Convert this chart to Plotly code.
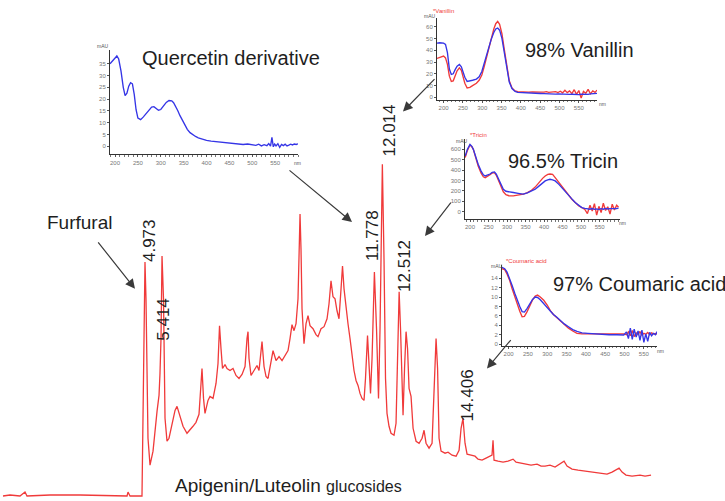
import plotly.graph_objects as go

# ---------------- DATA ----------------
# Main chromatogram: retention time (min) and detector signal (mAU)
CHROM_T = [0.761, 0.969, 1.265, 1.414, 1.473, 2.155, 3.045, 3.935, 4.440, 4.469, 4.529, 4.884, 4.914,
           4.973, 5.003, 5.062, 5.122, 5.211, 5.330, 5.359, 5.389, 5.418, 5.448, 5.478, 5.522, 5.567,
           5.626, 5.685, 5.775, 5.864, 5.923, 6.012, 6.101, 6.219, 6.308, 6.397, 6.486, 6.575, 6.635,
           6.664, 6.709, 6.753, 6.842, 6.902, 6.991, 7.080, 7.139, 7.184, 7.228, 7.272, 7.347, 7.406,
           7.495, 7.584, 7.673, 7.762, 7.851, 7.940, 7.999, 8.029, 8.059, 8.118, 8.207, 8.296, 8.355,
           8.444, 8.504, 8.563, 8.622, 8.711, 8.771, 8.860, 8.949, 9.038, 9.127, 9.216, 9.275, 9.334,
           9.394, 9.453, 9.512, 9.542, 9.572, 9.601, 9.631, 9.690, 9.750, 9.809, 9.868, 9.957, 10.046,
           10.105, 10.195, 10.284, 10.373, 10.432, 10.491, 10.550, 10.610, 10.669, 10.728, 10.788,
           10.832, 10.877, 10.936, 10.995, 11.055, 11.114, 11.173, 11.233, 11.292, 11.351, 11.411,
           11.470, 11.514, 11.574, 11.618, 11.663, 11.708, 11.778, 11.841, 11.900, 11.945, 12.014,
           12.063, 12.108, 12.152, 12.212, 12.271, 12.360, 12.420, 12.464, 12.512, 12.553, 12.598,
           12.628, 12.672, 12.717, 12.761, 12.806, 12.865, 12.925, 13.014, 13.103, 13.192, 13.251,
           13.310, 13.399, 13.488, 13.548, 13.607, 13.652, 13.696, 13.755, 13.874, 13.963, 14.082,
           14.201, 14.290, 14.349, 14.406, 14.466, 14.527, 14.646, 14.763, 14.853, 14.971, 15.090,
           15.208, 15.267, 15.297, 15.327, 15.446, 15.594, 15.742, 15.891, 15.980, 16.128, 16.277,
           16.425, 16.603, 16.722, 16.840, 16.988, 17.137, 17.285, 17.404, 17.492, 17.641, 17.819,
           18.026, 18.234, 18.471, 18.679, 18.827, 18.946, 19.035, 19.124, 19.242, 19.420, 19.658,
           19.806, 19.984]
CHROM_A = [0, 1, 0, 4, 0, 1, 1, 0, 0, 4, 0, 0, 98,
           235, 198, 58, 31, 45, 85, 93, 101, 123, 158, 241, 198, 78,
           55, 58, 73, 86, 90, 80, 70, 63, 66, 70, 74, 82, 113,
           128, 98, 83, 96, 100, 98, 113, 133, 171, 148, 128, 132, 128,
           126, 128, 121, 118, 122, 130, 158, 165, 138, 121, 126, 131, 126,
           155, 130, 120, 118, 133, 146, 136, 140, 136, 141, 146, 158, 172,
           166, 173, 198, 248, 283, 248, 188, 153, 173, 181, 171, 168, 162,
           160, 168, 170, 178, 193, 216, 200, 198, 186, 178, 208,
           231, 208, 188, 173, 158, 141, 126, 116, 111, 103, 98,
           96, 118, 161, 133, 103, 138, 225, 168, 98, 168, 333,
           238, 118, 83, 70, 63, 61, 73, 138, 205, 168, 98,
           81, 128, 165, 148, 108, 100, 68, 55, 53, 58, 66,
           53, 48, 53, 108, 158, 128, 58, 45, 43, 44, 41,
           40, 46, 68, 78, 53, 42, 41, 40, 37, 36, 38,
           40, 41, 56, 36, 35, 34, 35, 37, 34, 33, 32,
           31, 32, 30, 30, 31, 29, 32, 35, 30, 27, 26,
           25, 24, 23, 22, 24, 26, 28, 24, 21, 20, 21,
           20, 21]
PEAK_LABELS = ["4.973", "5.414", "11.778", "12.014", "12.512", "14.406"]

# UV spectra (nm, mAU)
Q_NM = [189, 195, 200, 204, 208, 213, 218, 222, 226, 230, 234, 238, 242, 246, 250, 256, 262, 268, 274, 280,
        285, 290, 295, 300, 306, 312, 318, 324, 328, 332, 337, 342, 347, 352, 358, 364, 370, 376, 382, 390,
        400, 410, 420, 432, 444, 456, 468, 480, 490, 500, 508, 514, 520, 526, 532, 536, 540, 543, 546, 549,
        552, 556, 560, 564, 568, 572, 576, 580, 584, 588, 592, 596, 600]
Q_BLUE = [35.0, 36.5, 37.8, 38.3, 37.0, 32.0, 25.0, 21.5, 22.5, 25.5, 27.0, 26.5, 22.0, 15.5, 12.0, 11.3,
          12.5, 14.0, 15.5, 16.6, 16.8, 16.0, 15.3, 15.6, 17.0, 18.6, 19.4, 19.3, 18.5, 17.2, 15.2, 13.0,
          11.0, 9.0, 7.2, 5.8, 4.8, 4.2, 3.6, 3.0, 2.5, 2.2, 2.0, 1.6, 1.4, 1.1, 0.9, 0.8, 1.0, 0.6, 0.4,
          0.9, 0.2, 0.7, 0.3, 1.2, 0.1, 3.8, -0.2, 1.0, 0.2, 1.1, -0.4, 0.8, 0.3, 0.9, 0.2, 0.5, 0.9, 0.6,
          1.0, 0.8, 1.1]

V_NM = [183, 190, 200, 205, 210, 215, 220, 225, 230, 235, 241, 246, 250, 255, 261, 268, 275, 285, 292, 299,
        305, 311, 317, 323, 330, 335, 340, 345, 351, 357, 364, 370, 377, 385, 392, 400, 410, 420, 430, 440,
        450, 460, 466, 472, 478, 484, 490, 496, 502, 508, 514, 520, 526, 532, 538, 544, 550, 556, 562, 568,
        574, 580, 586, 592, 597]
V_BLUE = [46, 46.3, 46, 45, 38, 24, 19.5, 20, 23.5, 26.5, 28, 26, 22, 17, 13.5, 13.8, 14.5, 15.5, 17.5, 22,
          29, 36, 42, 49, 55, 58, 58.8, 57, 50, 38, 23, 13, 7.5, 5, 4.2, 4,
          3.8, 3.6, 3.5, 3.4, 3.3, 3.2, 3.0, 3.1, 2.9, 3.0, 2.8, 2.9, 2.7, 2.8, 2.6, 2.7, 2.5, 2.6, 2.4,
          2.7, 2.3, 2.6, 2.4, 2.8, 2.5, 2.9, 3.0, 3.2, 3.4]
V_RED = [33, 34, 35, 33.5, 28, 18, 13.5, 14, 18, 22.5, 25, 23, 18, 12, 8, 8.5, 10, 12, 14.5, 19,
         26, 34, 41, 50, 58, 62.5, 64.4, 62, 54, 41, 25, 14, 8, 5.5, 4.8, 4.6,
         4.5, 4.4, 4.6, 4.3, 4.5, 4.4, 4.8, 4.2, 4.6, 4.4, 4.9, 4.1, 5.2, 3.8, 6.0, 4.0, 5.5, 3.2, 6.5,
         2.5, 5.8, -0.5, 5.0, 3.5, 6.8, 3.0, 5.5, 4.2, 6.2]

T_NM = [187, 193, 200, 205, 209, 215, 222, 230, 236, 241, 247, 254, 260, 266, 271, 277, 283, 290, 297, 305,
        317, 330, 344, 355, 366, 376, 386, 396, 403, 410, 416, 423, 430, 440, 450, 457, 466, 475, 484, 493,
        502, 510, 517, 524, 530, 536, 542, 548, 554, 560, 566, 572, 578, 584, 590, 596, 601]
T_BLUE = [536, 600, 648, 630, 600, 530, 456, 390, 355, 343, 350, 362, 378, 382, 360, 311, 260, 215, 195, 188,
          183, 175, 167, 180, 198, 215, 245, 275, 295, 306, 311, 306, 295, 262, 225, 198, 160, 122, 87, 60,
          38, 30, 26, 22, 28, 20, 25, 18, 27, 22, 30, 24, 28, 26, 30, 27, 32]
T_RED = [520, 590, 642, 625, 600, 525, 440, 370, 335, 327, 338, 355, 372, 375, 350, 300, 240, 190, 163, 152,
         150, 155, 167, 182, 205, 235, 280, 320, 343, 358, 362, 358, 327, 280, 235, 198, 155, 118, 87, 55,
         38, 20, -20, 60, 5, 75, -35, 50, -10, 80, 10, 45, -25, 70, 15, 60, 40]

C_NM = [183, 190, 196, 203, 209, 216, 222, 229, 235, 241, 248, 255, 262, 269, 275, 282, 291, 300, 308, 316,
        325, 334, 344, 355, 366, 377, 390, 405, 420, 440, 460, 480, 498, 505, 510, 515, 520, 525, 530, 535,
        540, 545, 550, 555, 560, 565, 570, 575, 580, 585, 589]
C_BLUE = [16.3, 16.0, 15.3, 14.0, 12.5, 10.8, 9.3, 8.0, 6.9, 6.8, 7.6, 8.6, 9.5, 10.0, 9.9, 9.4, 8.6, 7.8,
          6.9, 6.3, 5.7, 5.0, 4.3, 3.7, 3.1, 2.7, 2.4, 2.3, 2.2, 2.1, 2.0, 2.0, 1.95,
          2.6, 1.2, 3.4, 1.0, 3.2, 1.5, 2.8, 0.8, 3.0, 0.4, 2.2, 0.6, 2.5, 1.8, 2.3, 2.0, 2.7, 2.5]
C_RED = [16.0, 15.8, 14.9, 13.5, 11.8, 10.0, 8.6, 7.0, 5.8, 5.9, 6.9, 8.2, 9.4, 10.2, 10.4, 10.0, 9.3, 8.3,
         7.1, 6.3, 5.6, 5.1, 4.2, 3.4, 2.8, 2.3, 2.2, 2.2, 2.2, 2.2, 2.1, 2.2, 2.2,
         2.0, 2.6, 1.8, 2.9, 1.6, 2.4, 2.0, 2.7, 1.9, 2.3, 2.1, 2.5, 2.0, 2.4, 2.2, 2.3, 2.1, 2.2]

NM_TICKS = [200, 250, 300, 350, 400, 450, 500, 550]

# ---------------- LAYOUT HELPERS ----------------
W, H = 725, 501
FONT = "Liberation Sans, Arial, sans-serif"
RED = "#f03a3a"
BLUE = "#3535e6"
TXT = "#1e1e1e"


def px(x):
    return x / W


def py(y):
    return 1 - y / H


fig = go.Figure()

# main chromatogram
fig.add_trace(go.Scatter(x=CHROM_T, y=CHROM_A, mode="lines",
                         line=dict(color=RED, width=1.3), xaxis="x", yaxis="y",
                         hoverinfo="skip", showlegend=False))

insets = [
    # n, x px domain, y px domain (top, bottom), x range, y range, y ticks, series
    (2, (110, 298), (50, 155), (189, 600), (-3.4, 40.9), [0, 5, 10, 15, 20, 25, 30, 35],
     [(Q_NM, Q_BLUE, BLUE)]),
    (3, (437, 597), (18, 100), (183, 597), (-1.9, 67.4), [0, 10, 20, 30, 40, 50, 60],
     [(V_NM, V_RED, RED), (V_NM, V_BLUE, BLUE)]),
    (4, (465, 620), (140, 220), (186.5, 605), (-74, 696), [0, 100, 200, 300, 400, 500, 600],
     [(T_NM, T_RED, RED), (T_NM, T_BLUE, BLUE)]),
    (5, (502, 657), (266, 347), (183, 584), (-0.3, 16.8), [0, 2, 4, 6, 8, 10, 12, 14],
     [(C_NM, C_RED, RED), (C_NM, C_BLUE, BLUE)]),
]

layout_axes = {}
for n, (x0, x1), (yt, yb), xr, yr, yt_vals, series in insets:
    for xs, ys, col in series:
        fig.add_trace(go.Scatter(x=xs, y=ys, mode="lines", line=dict(color=col, width=1.35),
                                 xaxis=f"x{n}", yaxis=f"y{n}", hoverinfo="skip", showlegend=False))
    layout_axes[f"xaxis{n}"] = dict(
        domain=[px(x0), px(x1)], range=list(xr), anchor=f"y{n}", showgrid=False, zeroline=False,
        showline=True, linecolor="#333", linewidth=1, ticks="outside", ticklen=2, tickcolor="#555",
        tickvals=NM_TICKS, tickfont=dict(size=6, color="#777", family=FONT),
        minor=dict(ticks="outside", ticklen=1.5, dtick=10, tickcolor="#777"))
    layout_axes[f"yaxis{n}"] = dict(
        domain=[py(yb), py(yt)], range=list(yr), anchor=f"x{n}", showgrid=False, zeroline=False,
        showline=True, linecolor="#333", linewidth=1, ticks="outside", ticklen=2, tickcolor="#555",
        tickvals=yt_vals, tickfont=dict(size=6, color="#777", family=FONT))

annotations = []


def text(s, x, y, size, xanchor="center", color=TXT, angle=0):
    annotations.append(dict(text=s, x=px(x), y=py(y), xref="paper", yref="paper",
                            xanchor=xanchor, yanchor="middle", showarrow=False, textangle=angle,
                            font=dict(size=size, color=color, family=FONT)))


# titles
text("Quercetin derivative", 231, 58, 20)
text("98% Vanillin", 523, 50, 20, xanchor="left")
text("96.5% Tricin", 563, 162, 20)
text("97% Coumaric acid", 551, 285, 20, xanchor="left")
text("Furfural", 79, 223, 19)
text("Apigenin/Luteolin <span style='font-size:16px'>glucosides</span>", 173, 487, 19, xanchor="left")

# rotated peak labels
peak_pos = [(149, 242), (164, 321), (372, 237), (389, 131), (405, 267), (467, 397)]
for lab, (x, y) in zip(PEAK_LABELS, peak_pos):
    text(lab, x, y, 17, angle=-90)

# small inset labels
for x, y in [(103, 46), (430, 16), (462, 142), (497, 267)]:
    text("mAU", x, y, 5, color="#555")
for x, y in [(297, 164), (602, 104), (622, 224), (660, 352)]:
    text("nm", x, y, 5, color="#555")
text("*Vanillin", 444, 11, 6, color=RED)
text("*Tricin", 478, 136, 6, color=RED)
text("*Coumaric acid", 526, 262, 6, color=RED)

# arrows (tip, tail)
arrows = [((135, 290), (97, 242)), ((352, 223), (288, 170)), ((403, 112), (436, 78)),
          ((425, 237), (452, 202)), ((487, 370), (512, 340))]
for (tx, ty), (sx, sy) in arrows:
    annotations.append(dict(x=px(tx), y=py(ty), xref="paper", yref="paper", text="",
                            showarrow=True, ax=sx - tx, ay=sy - ty, axref="pixel", ayref="pixel",
                            arrowhead=2, arrowsize=1.6, arrowwidth=1.2, arrowcolor="#3a3a3a",
                            standoff=0, startstandoff=0))

fig.update_layout(
    width=W, height=H, margin=dict(l=0, r=0, t=0, b=0),
    paper_bgcolor="white", plot_bgcolor="rgba(0,0,0,0)", showlegend=False,
    xaxis=dict(domain=[0, 1], range=[0.672, 22.178], visible=False),
    yaxis=dict(domain=[0, 1], range=[-3, 498], visible=False),
    annotations=annotations,
    **layout_axes,
)

fig.write_html("out.html")
